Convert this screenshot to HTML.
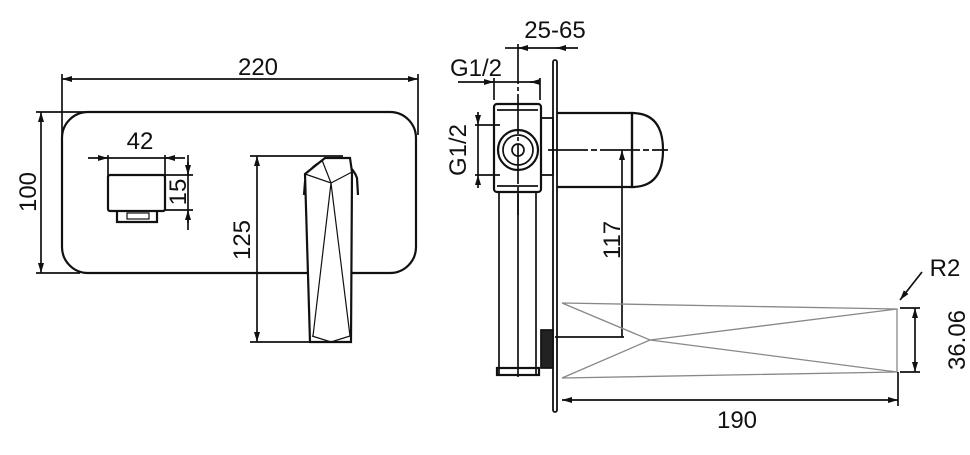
<!DOCTYPE html>
<html><head><style>html,body{margin:0;padding:0;background:#fff}svg{display:block}text{font-family:"Liberation Sans",sans-serif;fill:#111}</style></head><body>
<svg width="970" height="455" viewBox="0 0 970 455" xmlns="http://www.w3.org/2000/svg">
<defs><marker id="a" markerWidth="10" markerHeight="6" refX="10" refY="3" orient="auto-start-reverse" markerUnits="userSpaceOnUse"><path d="M0,0L10,3L0,6z" fill="#111"/></marker></defs>
<g stroke="#111" stroke-width="1.7" fill="none">
<line x1="62" y1="79" x2="418" y2="79" marker-start="url(#a)" marker-end="url(#a)"/>
<line x1="62" y1="74" x2="62" y2="140"/><line x1="418" y1="74" x2="418" y2="135"/>
<rect x="62" y="112" width="354" height="161" rx="26" stroke-width="2.2"/>
<line x1="36" y1="112" x2="85" y2="112"/><line x1="36" y1="273" x2="80" y2="273"/>
<line x1="41" y1="112" x2="41" y2="273" marker-start="url(#a)" marker-end="url(#a)"/>
<line x1="88" y1="158" x2="185" y2="158"/>
<line x1="98" y1="158" x2="108" y2="158" marker-end="url(#a)"/><line x1="175" y1="158" x2="165" y2="158" marker-end="url(#a)"/>
<line x1="108" y1="155" x2="108" y2="176"/><line x1="165" y1="155" x2="165" y2="176"/>
<rect x="108" y="175" width="57" height="36" rx="2" stroke-width="2.2"/>
<path d="M117,211V222H157V211" stroke-width="2.2"/><rect x="127" y="213" width="22" height="6" stroke-width="1.2"/>
<line x1="188" y1="155" x2="188" y2="230"/>
<line x1="165" y1="175" x2="193" y2="175"/><line x1="165" y1="210" x2="193" y2="210"/>
<line x1="188" y1="162" x2="188" y2="175" marker-end="url(#a)"/><line x1="188" y1="223" x2="188" y2="210" marker-end="url(#a)"/>
<line x1="250" y1="156" x2="343" y2="156"/><line x1="250" y1="342" x2="312" y2="342"/>
<line x1="257" y1="156" x2="257" y2="342" marker-start="url(#a)" marker-end="url(#a)"/>
<path d="M305,182 A27,27 0 0 1 357,178 L358,195 M305,182 L304,195" stroke-width="2.2"/>
<path d="M305,174 L325,158 L350,158 L352,172 L351,342 L310,342 Z" stroke-width="2.2" fill="#fff"/>
<path d="M305,174 L331,183 L352,172 M331,183 L313,336 M331,183 L350,336 M322,160 L331,183 M312,336 L331,342 L350,336" stroke-width="1.2"/>
<line x1="505" y1="48" x2="518" y2="48" /><line x1="528" y1="48" x2="518" y2="48" marker-end="url(#a)"/>
<line x1="518" y1="48" x2="578" y2="48"/><line x1="566" y1="48" x2="556" y2="48" marker-end="url(#a)"/>
<line x1="518" y1="44" x2="518" y2="215" stroke-dasharray="40,3,4,3"/>
<rect x="553" y="60" width="4" height="352" rx="2" stroke-width="1.8"/>
<line x1="458" y1="82" x2="540" y2="82"/>
<line x1="484" y1="82" x2="494" y2="82" marker-end="url(#a)"/><line x1="530" y1="82" x2="540" y2="82" marker-start="url(#a)"/>
<line x1="494" y1="78" x2="494" y2="100"/><line x1="540" y1="78" x2="540" y2="100"/>
<rect x="494" y="104" width="47" height="88" rx="3" stroke-width="2.2"/>
<line x1="497" y1="110" x2="538" y2="110"/><line x1="497" y1="186" x2="538" y2="186"/>
<circle cx="518" cy="150" r="20" stroke-width="2.2"/><circle cx="518" cy="150" r="15"/><circle cx="518" cy="150" r="6"/>
<path d="M499,192V375M518,192V377M536,192V375" />
<rect x="497" y="368" width="42" height="7" stroke-width="2.2"/>
<rect x="541" y="118" width="12" height="57" stroke-width="1.8"/>
<line x1="475" y1="125" x2="500" y2="125"/><line x1="475" y1="175" x2="500" y2="175"/>
<line x1="478" y1="112" x2="478" y2="125" marker-end="url(#a)"/><line x1="478" y1="188" x2="478" y2="175" marker-end="url(#a)"/>
<line x1="478" y1="125" x2="478" y2="175"/>
<path d="M557,113H632V187H557" stroke-width="2.2"/>
<path d="M632,113 Q663,113 663,150 Q663,187 632,187 Z" stroke-width="2.2"/>
<line x1="548" y1="150" x2="668" y2="150" stroke-dasharray="40,3,6,3"/>
<line x1="622" y1="150" x2="622" y2="337" marker-start="url(#a)"/>
<line x1="555" y1="337" x2="624" y2="337"/>
<rect x="541" y="330" width="12" height="38" fill="#222"/>
<g stroke="#888" stroke-width="1.3"><path d="M562,303L897,309L897,372L562,378M562,303L650,340L897,372M562,378L650,340L897,309"/></g>
<line x1="900" y1="308" x2="920" y2="308"/><line x1="900" y1="372" x2="920" y2="372"/>
<line x1="915" y1="308" x2="915" y2="372" marker-start="url(#a)" marker-end="url(#a)"/>
<line x1="922" y1="272" x2="900" y2="300" marker-end="url(#a)"/>
<line x1="898" y1="372" x2="898" y2="406"/>
<line x1="562" y1="400" x2="898" y2="400" marker-start="url(#a)" marker-end="url(#a)"/>
</g>
<g font-size="24">
<text x="258" y="75" text-anchor="middle">220</text>
<text transform="translate(36,192) rotate(-90)" text-anchor="middle">100</text>
<text x="140" y="149" text-anchor="middle">42</text>
<text transform="translate(186,192) rotate(-90)" text-anchor="middle">15</text>
<text transform="translate(250,240) rotate(-90)" text-anchor="middle">125</text>
<text x="555" y="38" text-anchor="middle">25-65</text>
<text x="476" y="76" text-anchor="middle">G1/2</text>
<text transform="translate(466,150) rotate(-90)" text-anchor="middle">G1/2</text>
<text transform="translate(620,240) rotate(-90)" text-anchor="middle">117</text>
<text x="945" y="276" text-anchor="middle">R2</text>
<text transform="translate(965,340) rotate(-90)" text-anchor="middle">36.06</text>
<text x="737" y="428" text-anchor="middle">190</text>
</g>
</svg>
</body></html>
